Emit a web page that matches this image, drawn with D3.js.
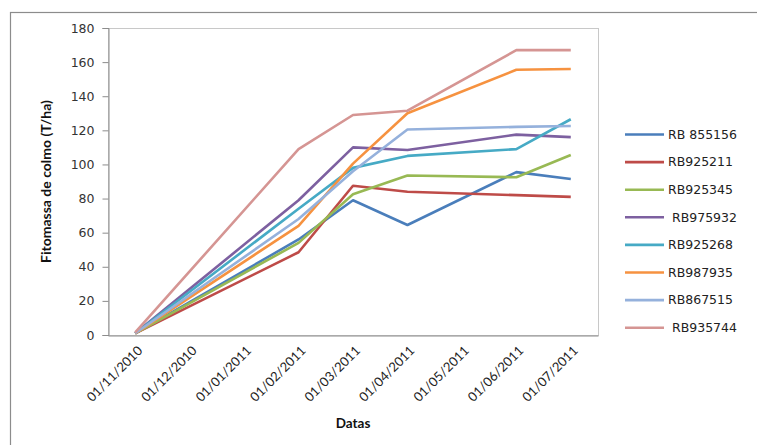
<!DOCTYPE html>
<html>
<head>
<meta charset="utf-8">
<script src="https://cdn.jsdelivr.net/npm/d3@7"></script>
<style>
  body { margin: 0; background: #fff; }
  svg { display: block; }
</style>
</head>
<body>
<svg id="chart" width="757" height="445"></svg>
<script>
// month categories on the x axis (Excel date axis, base unit = month)
const months = ["01/11/2010", "01/12/2010", "01/01/2011", "01/02/2011", "01/03/2011",
                "01/04/2011", "01/05/2011", "01/06/2011", "01/07/2011"];
// sampling dates
const sampleDates = ["01/11/2010", "01/02/2011", "01/03/2011", "01/04/2011", "01/06/2011", "01/07/2011"];

const yTicks = [0, 20, 40, 60, 80, 100, 120, 140, 160, 180];

// series (name as in legend, values per sample date)
const seriesNames = ["RB 855156", "RB925211", "RB925345", " RB975932", "RB925268", "RB987935", "RB867515", " RB935744"];
const rb855156 = [1, 56, 79, 64.5, 95.5, 91.5];
const rb925211 = [1, 48.5, 87.5, 84, 82, 81];
const rb925345 = [1, 54, 82.5, 93.5, 92.5, 105.5];
const rb975932 = [1, 79, 110, 108.5, 117.5, 116];
const rb925268 = [1, 74, 98, 105, 109, 126.5];
const rb987935 = [1, 64, 100.5, 130, 155.5, 156];
const rb867515 = [1, 68, 96, 120.5, 122, 122.5];
const rb935744 = [1.5, 109, 129, 131.5, 167, 167];
const seriesValues = [rb855156, rb925211, rb925345, rb975932, rb925268, rb987935, rb867515, rb935744];
const seriesColors = ["#4a7ebb", "#be4b48", "#98b954", "#7d60a0", "#46aac5", "#f69240", "#95b1dc", "#d59593"];

const svg = d3.select('#chart');

const plot = {left: 108, right: 598, top: 28, bottom: 335};

const x = d3.scaleBand()
    .domain(months)
    .range([plot.left, plot.right]);
const y = d3.scaleLinear()
    .domain([0, 180])
    .range([plot.bottom, plot.top]);

const cx = d => x(d) + x.bandwidth() / 2;

// outer chart border
svg.append('rect')
    .attr('x', 10.5).attr('y', 12.5)
    .attr('width', 760).attr('height', 450)
    .attr('fill', 'none')
    .attr('stroke', '#8c8c8c')
    .attr('stroke-width', 1.2);

// plot area border (light)
svg.append('rect')
    .attr('x', plot.left + 0.5).attr('y', plot.top + 0.5)
    .attr('width', plot.right - plot.left).attr('height', plot.bottom - plot.top)
    .attr('fill', 'none')
    .attr('stroke', '#c8c8c8');

// y axis
const yAxis = svg.append('g')
    .attr('transform', `translate(${plot.left + 0.5},0)`)
    .call(d3.axisLeft(y).tickValues(yTicks).tickSize(6).tickPadding(8));
yAxis.select('.domain').attr('stroke', '#8c8c8c');
yAxis.selectAll('.tick line').attr('stroke', '#8c8c8c');
yAxis.selectAll('.tick text')
    .style('font', '12.5px "DejaVu Sans"')
    .attr('fill', '#333');

// x axis
const xAxis = svg.append('g')
    .attr('transform', `translate(0,${plot.bottom + 0.5})`)
    .call(d3.axisBottom(x).tickSize(0).tickPadding(0).tickSizeOuter(0));
xAxis.select('.domain').attr('stroke', '#8c8c8c');
xAxis.selectAll('.tick text')
    .style('font', '13px Lato, sans-serif')
    .attr('fill', '#222')
    .attr('text-anchor', 'end')
    .attr('dy', 0)
    .attr('transform', 'translate(8,16) rotate(-45)');

// axis titles
svg.append('text')
    .attr('transform', `translate(51,${(plot.top + plot.bottom) / 2}) rotate(-90)`)
    .attr('text-anchor', 'middle')
    .style('font', 'bold 14px Lato, sans-serif')
    .attr('fill', '#111')
    .text('Fitomassa de colmo (T/ha)');

svg.append('text')
    .attr('x', 353).attr('y', 428)
    .attr('text-anchor', 'middle')
    .style('font', 'bold 13.5px Lato, sans-serif')
    .attr('fill', '#111')
    .text('Datas');

// lines
const line = d3.line()
    .x((d, i) => cx(sampleDates[i]))
    .y(d => y(d));

svg.append('g')
    .selectAll('path')
    .data(seriesValues)
    .join('path')
    .attr('d', d => line(d))
    .attr('fill', 'none')
    .attr('stroke', (d, i) => seriesColors[i])
    .attr('stroke-width', 2.6)
    .attr('stroke-linejoin', 'round');

// legend
const legend = svg.append('g')
    .selectAll('g')
    .data(seriesNames)
    .join('g')
    .attr('transform', (d, i) => `translate(625,${134.5 + i * 27.6})`);

legend.append('line')
    .attr('x1', 0).attr('x2', 39)
    .attr('stroke', (d, i) => seriesColors[i])
    .attr('stroke-width', 2.6);

legend.append('text')
    .attr('x', 43)
    .attr('dy', '0.35em')
    .style('font', '12.5px "DejaVu Sans"')
    .style('white-space', 'pre')
    .attr('fill', '#222')
    .text(d => d);
</script>
</body>
</html>
